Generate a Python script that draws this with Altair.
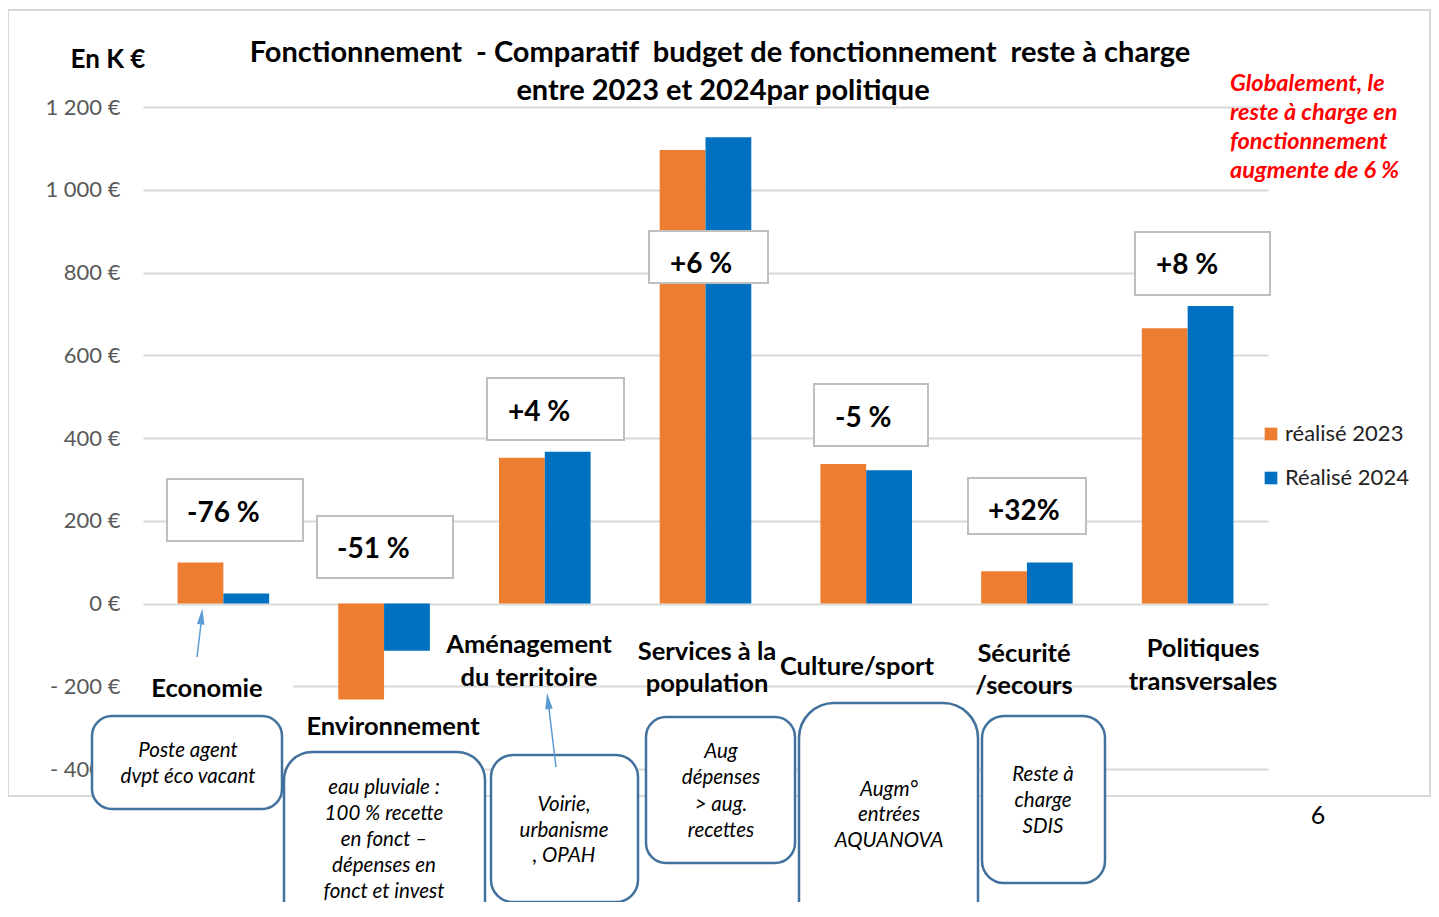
import altair as alt
import pandas as pd

# ---------------- data ----------------
categories = ["Economie", "Environnement", "Aménagement du territoire",
              "Services à la population", "Culture/sport",
              "Sécurité /secours", "Politiques transversales"]
series = ["réalisé 2023", "Réalisé 2024"]
values_2023 = [99, -232, 352, 1096, 337, 78, 665]
values_2024 = [24, -114, 367, 1127, 322, 99, 719]
changes = ["-76 %", "-51 %", "+4 %", "+6 %", "-5 %", "+32%", "+8 %"]
y_ticks = [-400, -200, 0, 200, 400, 600, 800, 1000, 1200]

category_lines = [["Economie"], ["Environnement"], ["Aménagement", "du territoire"],
                  ["Services à la", "population"], ["Culture/sport"],
                  ["Sécurité", "/secours"], ["Politiques", "transversales"]]
title_lines = ["Fonctionnement\u00a0 - Comparatif\u00a0 budget de fonctionnement\u00a0 reste à charge",
               "entre 2023 et 2024par politique"]
unit_label = "En K €"
note_lines = ["Globalement, le", "reste à charge en", "fonctionnement", "augmente de 6 %"]
comments = [["Poste agent", "dvpt éco vacant"],
            ["eau pluviale :", "100 % recette", "en fonct –", "dépenses en", "fonct et invest"],
            ["Voirie,", "urbanisme", ", OPAH"],
            ["Aug", "dépenses", "> aug.", "recettes"],
            ["Augm°", "entrées", "AQUANOVA"],
            ["Reste à", "charge", "SDIS"]]
page_number = "6"

# ---------------- layout (page pixels) ----------------
FONT = "Lato"
PX0, PY0, W, H = 143, 107, 1125, 662
YMIN, YMAX, N = -400, 1200, 7


def ux(X):
    return (X - PX0) / W * N


def vy(Y):
    return YMAX - (Y - PY0) / H * (YMAX - YMIN)


XS = alt.Scale(domain=[0, N], nice=False, zero=False)
YS = alt.Scale(domain=[YMIN, YMAX], nice=False, zero=False)

pct_boxes = [(167, 303, 479, 541), (317, 453, 516, 578), (487, 624, 378, 440),
             (649, 768, 231, 283), (814, 928, 384, 446), (968, 1086, 478, 534),
             (1135, 1270, 232, 295)]
pct_text = [(187, 522), (337, 558), (508, 421), (670, 273), (835, 427), (988, 520), (1156, 274)]
label_pos = [(207, [697]), (393, [735]), (529, [653, 686]), (707, [660, 692]),
             (857, [675]), (1024, [662, 694]), (1203, [657, 690])]
comment_boxes = [(92, 282, 716, 809, 20, 188, [757, 783]),
                 (284, 485, 752, 960, 28, 384, [794, 820, 846, 872, 898]),
                 (491, 638, 755, 902, 22, 564, [811, 837, 862]),
                 (646, 795, 717, 863, 20, 721, [758, 784, 811, 837]),
                 (799, 978, 703, 980, 35, 889, [796, 821, 847]),
                 (982, 1105, 716, 883, 22, 1043, [781, 807, 833])]
arrows = [((197, 657), (201, 624), (201.5, 616.5), 6),
          ((556, 767), (549, 709), (548, 701), 353)]


def enc_xy(extra=None):
    d = dict(x=alt.X("u:Q", scale=XS, axis=None), y=alt.Y("v:Q", scale=YS, axis=None))
    if extra:
        d.update(extra)
    return d


def rect_layer(rows, **mark):
    df = pd.DataFrame([{"u": ux(a), "u2": ux(b), "v": vy(c), "v2": vy(d)} for a, b, c, d in rows])
    return alt.Chart(df).mark_rect(**mark).encode(
        x=alt.X("u:Q", scale=XS, axis=None), x2="u2:Q",
        y=alt.Y("v:Q", scale=YS, axis=None), y2="v2:Q")


def text_layer(rows, size, weight="normal", style="normal", color="#000000", align="center"):
    df = pd.DataFrame([{"u": ux(x), "v": vy(y), "t": t} for x, y, t in rows])
    return alt.Chart(df).mark_text(font=FONT, fontSize=size, fontWeight=weight, fontStyle=style,
                                   color=color, align=align, baseline="alphabetic").encode(
        **enc_xy({"text": alt.Text("t:N")}))


layers = []

# frame
layers.append(rect_layer([(8, 1430, 10, 796)], fillOpacity=0, stroke="#D9D9D9", strokeWidth=2))
# white background behind "Economie"
layers.append(rect_layer([(143, 293, 674, 703)], color="#FFFFFF"))

# bars
bars_df = pd.DataFrame({
    "categorie": categories * 2,
    "serie": [series[0]] * len(categories) + [series[1]] * len(categories),
    "valeur": values_2023 + values_2024,
})
label_expr = ("(datum.value < 0 ? '- ' : '') + "
              "replace(format(abs(datum.value), ',d'), ',', ' ') + ' €'")
bars = alt.Chart(bars_df).mark_bar().encode(
    x=alt.X("categorie:N", sort=categories,
            scale=alt.Scale(paddingInner=0.43, paddingOuter=0.215), axis=None),
    xOffset=alt.XOffset("serie:N", sort=series, scale=alt.Scale(paddingInner=0, paddingOuter=0)),
    y=alt.Y("valeur:Q", scale=YS,
            axis=alt.Axis(values=y_ticks, labelExpr=label_expr, grid=True, gridColor="#D9D9D9",
                          gridWidth=2, domain=False, ticks=False, labelFont=FONT,
                          labelFontSize=22, labelColor="#595959", labelPadding=23,
                          title=None, orient="left")),
    color=alt.Color("serie:N", sort=series,
                    scale=alt.Scale(domain=series, range=["#ED7D31", "#0070C0"]),
                    legend=alt.Legend(orient="none", legendX=1265 - PX0 - 5, legendY=423 - PY0,
                                      title=None, symbolType="square", symbolSize=160,
                                      symbolStrokeWidth=0, labelFont=FONT, labelFontSize=22,
                                      labelColor="#222222", labelOffset=3, rowPadding=22,
                                      padding=0, offset=0)),
)
layers.append(bars)

# percentage boxes
layers.append(rect_layer(pct_boxes, color="#FFFFFF", stroke="#BFBFBF", strokeWidth=2))
layers.append(text_layer([(x, y, t) for (x, y), t in zip(pct_text, changes)], 28,
                         weight="bold", align="left"))

# category labels
cat_rows = []
for (cx, bls), lines in zip(label_pos, category_lines):
    for bl, line in zip(bls, lines):
        cat_rows.append((cx, bl, line))
layers.append(text_layer(cat_rows, 25.5, weight="bold"))

# comment boxes
com_rows = []
for (x0, x1, y0, y1, r, cx, bls), lines in zip(comment_boxes, comments):
    layers.append(rect_layer([(x0, x1, y0, y1)], color="#FFFFFF", stroke="#41719C",
                             strokeWidth=2.5, cornerRadius=r))
    for bl, line in zip(bls, lines):
        com_rows.append((cx, bl, line))
layers.append(text_layer(com_rows, 20.5, style="italic"))

# arrows
rule_df = pd.DataFrame([{"u": ux(t[0]), "v": vy(t[1]), "u2": ux(b[0]), "v2": vy(b[1])}
                        for t, b, c, a in arrows])
layers.append(alt.Chart(rule_df).mark_rule(color="#5B9BD5", strokeWidth=1.5).encode(
    x=alt.X("u:Q", scale=XS, axis=None), x2="u2:Q",
    y=alt.Y("v:Q", scale=YS, axis=None), y2="v2:Q"))
for t, b, c, a in arrows:
    head_df = pd.DataFrame([{"u": ux(c[0]), "v": vy(c[1])}])
    layers.append(alt.Chart(head_df).mark_point(
        shape="M0,-1L0.47,1L-0.47,1Z", size=256, filled=True, opacity=1,
        color="#5B9BD5", angle=a).encode(**enc_xy()))

# titles and notes
layers.append(text_layer([(720, 62, title_lines[0]), (723, 100, title_lines[1])], 29, weight="bold"))
layers.append(text_layer([(108, 68, unit_label)], 26, weight="bold"))
layers.append(text_layer([(1230, y, t) for y, t in zip([91, 120, 149, 178], note_lines)], 23.5,
                         weight="bold", style="italic", color="#FF0000", align="left"))
layers.append(text_layer([(1318, 824, page_number)], 25))

chart = alt.layer(*layers).resolve_scale(
    x="independent", y="independent"
).resolve_axis(
    x="independent", y="independent"
).properties(
    width=W, height=H,
    autosize=alt.AutoSizeParams(type="none"),
    padding={"left": PX0 - 8, "top": PY0 - 8, "right": 1423 - (PX0 - 8) - W, "bottom": 894 - (PY0 - 8) - H},
).configure_view(strokeWidth=0)

chart.save("out.html", embed_options={"renderer": "svg", "actions": False})
